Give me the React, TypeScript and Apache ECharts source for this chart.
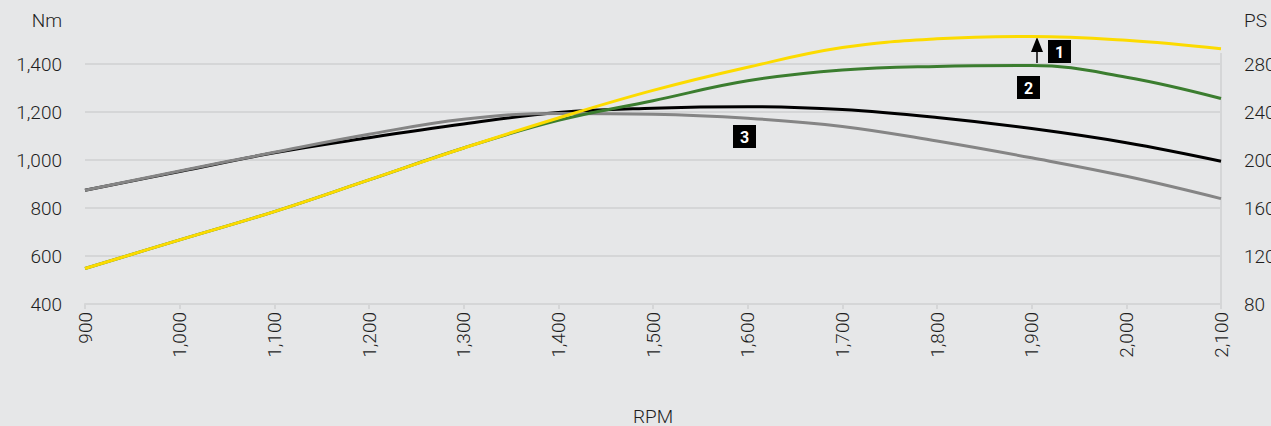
import React, { useEffect, useRef } from "react";
import * as echarts from "echarts";

const rpm = [900, 1000, 1100, 1200, 1300, 1400, 1500, 1600, 1700, 1800, 1900, 2000, 2100];
const torque3Black = [874, 952, 1030, 1093, 1150, 1198, 1216, 1222, 1210, 1177, 1131, 1072, 995];
const torqueGray = [874, 954, 1032, 1107, 1170, 1194, 1191, 1174, 1140, 1079, 1009, 932, 839];
const powerGreen = [109.6, 133.4, 157, 183.4, 210, 233, 249.4, 266, 275, 278, 278.7, 269, 251.3];
const power1Yellow = [109.6, 133.4, 157, 183.4, 210, 235, 258, 277.3, 293.7, 301, 303, 299.7, 292.7];
const nmTicks = { min: 400, max: 1400, interval: 200 };
const psTicks = { min: 80, max: 280, interval: 40 };
const xTicks = { min: 900, max: 2100, interval: 100 };

const FONT = "Roboto, 'DejaVu Sans', sans-serif";
const TEXT = "#1e1e1e";
const GRID = "#d5d6d7";
const FS = 19;

function pairs(xs: number[], ys: number[]) {
  return xs.map((x, i) => [x, ys[i]]);
}

function badge(x: number, y: number, label: string) {
  return {
    type: "group",
    x,
    y,
    children: [
      { type: "rect", shape: { x: 0, y: 0, width: 23, height: 23 }, style: { fill: "#000" } },
      {
        type: "text",
        x: 11.5,
        y: 12,
        style: {
          text: label,
          fill: "#fff",
          font: `bold 16px ${FONT}`,
          align: "center",
          verticalAlign: "middle",
        },
      },
    ],
  };
}

export default function App() {
  const ref = useRef<HTMLDivElement>(null);
  useEffect(() => {
    if (!ref.current) return;
    const chart = echarts.init(ref.current, undefined, { renderer: "svg" });
    const lineStyle = (color: string) => ({ color, width: 3 });
    const label = {
      fontSize: FS,
      fontWeight: 300,
      color: TEXT,
      fontFamily: FONT,
    };
    chart.setOption({
      animation: false,
      backgroundColor: "#e6e7e8",
      textStyle: { fontFamily: FONT, color: TEXT },
      grid: { left: 85, right: 50, top: 64, bottom: 122, containLabel: false, outerBoundsMode: "none" },
      xAxis: {
        type: "value",
        min: xTicks.min,
        max: xTicks.max,
        interval: xTicks.interval,
        axisLine: { show: true, lineStyle: { color: GRID, width: 2 } },
        axisTick: { show: true, length: 5, lineStyle: { color: GRID, width: 2 } },
        splitLine: { show: false },
        axisLabel: {
          ...label,
          rotate: 90,
          margin: 8,
          formatter: (v: number) => v.toLocaleString("en-US"),
        },
      },
      yAxis: [
        {
          type: "value",
          min: nmTicks.min,
          max: nmTicks.max,
          interval: nmTicks.interval,
          axisLine: { show: false },
          axisTick: { show: false },
          splitLine: { show: true, lineStyle: { color: GRID, width: 2 } },
          axisLabel: {
            ...label,
            margin: 23,
            formatter: (v: number) => v.toLocaleString("en-US"),
          },
        },
        {
          type: "value",
          position: "right",
          min: psTicks.min,
          max: psTicks.max,
          interval: psTicks.interval,
          axisLine: { show: true, lineStyle: { color: GRID, width: 2 } },
          axisTick: { show: false },
          splitLine: { show: false },
          axisLabel: { ...label, margin: 23 },
        },
      ],
      series: [
        {
          name: "Torque 3",
          type: "line",
          yAxisIndex: 0,
          data: pairs(rpm, torque3Black),
          smooth: 0.4,
          showSymbol: false,
          clip: false,
          lineStyle: lineStyle("#000000"),
        },
        {
          name: "Torque 2",
          type: "line",
          yAxisIndex: 0,
          data: pairs(rpm, torqueGray),
          smooth: 0.4,
          showSymbol: false,
          clip: false,
          lineStyle: lineStyle("#858585"),
        },
        {
          name: "Power 2",
          type: "line",
          yAxisIndex: 1,
          data: pairs(rpm, powerGreen),
          smooth: 0.4,
          showSymbol: false,
          clip: false,
          lineStyle: lineStyle("#3b7d2f"),
        },
        {
          name: "Power 1",
          type: "line",
          yAxisIndex: 1,
          data: pairs(rpm, power1Yellow),
          smooth: 0.4,
          showSymbol: false,
          clip: false,
          lineStyle: lineStyle("#fcdb00"),
        },
      ],
      graphic: [
        {
          type: "text",
          x: 62,
          y: 20,
          style: { text: "Nm", font: `300 ${FS}px ${FONT}`, fill: TEXT, align: "right", verticalAlign: "middle" },
        },
        {
          type: "text",
          x: 1244,
          y: 20,
          style: { text: "PS", font: `300 ${FS}px ${FONT}`, fill: TEXT, align: "left", verticalAlign: "middle" },
        },
        {
          type: "text",
          x: 653,
          y: 416,
          style: { text: "RPM", font: `300 ${FS}px ${FONT}`, fill: TEXT, align: "center", verticalAlign: "middle" },
        },
        { type: "line", shape: { x1: 1221, y1: 53, x2: 1221, y2: 64 }, style: { stroke: GRID, lineWidth: 2 } },
        { type: "line", shape: { x1: 1037, y1: 64, x2: 1037, y2: 48 }, style: { stroke: "#000", lineWidth: 1.5 } },
        {
          type: "polygon",
          shape: { points: [[1037, 37], [1031, 52], [1043, 52]] },
          style: { fill: "#000" },
        },
        badge(1048, 40, "1"),
        badge(1017, 76, "2"),
        badge(733, 125, "3"),
      ],
    });
    return () => chart.dispose();
  }, []);
  return <div ref={ref} style={{ width: 1271, height: 426, position: "absolute", left: 0, top: 0 }} />;
}
